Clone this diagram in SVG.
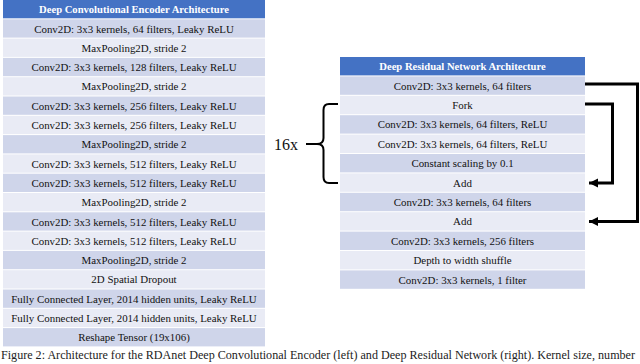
<svg xmlns="http://www.w3.org/2000/svg" width="640" height="364" viewBox="0 0 640 364">
<style>
.hd{fill:#4472c4}
.dk{fill:#cfd5ea}
.lt{fill:#e9ebf5}
text{font-family:"Liberation Serif","Times New Roman",serif;text-anchor:middle;dominant-baseline:central}
.t{font-size:10.9px;fill:#111}
.th{font-size:10.6px;font-weight:bold;fill:#fff}
.cap{font-size:12px;fill:#222;text-anchor:start;dominant-baseline:alphabetic}
.lbl{font-size:16px;fill:#111;text-anchor:start}
.ln{fill:none;stroke:#000;stroke-width:3}
.br{fill:none;stroke:#000;stroke-width:2}
</style>
<defs>
<marker id="ah" markerUnits="userSpaceOnUse" markerWidth="10" markerHeight="10" refX="9" refY="5" orient="auto">
<path d="M0,0.5 L9,5 L0,9.5 Z" fill="#000"/>
</marker>
</defs>
<rect width="640" height="364" fill="#fff"/>
<g id="encoder">
<g id="enc-h"><rect class="hd" x="3" y="0" width="262" height="18.3"/><text class="th" x="134" y="9.2">Deep Convolutional Encoder Architecture</text></g>
<g id="enc-1"><rect class="dk" x="3" y="19.3" width="262" height="18.3"/><text class="t" x="134" y="28.5">Conv2D: 3x3 kernels, 64 filters, Leaky ReLU</text></g>
<g id="enc-2"><rect class="lt" x="3" y="38.6" width="262" height="18.3"/><text class="t" x="134" y="47.8">MaxPooling2D, stride 2</text></g>
<g id="enc-3"><rect class="dk" x="3" y="57.9" width="262" height="18.3"/><text class="t" x="134" y="67.1">Conv2D: 3x3 kernels, 128 filters, Leaky ReLU</text></g>
<g id="enc-4"><rect class="lt" x="3" y="77.2" width="262" height="18.3"/><text class="t" x="134" y="86.4">MaxPooling2D, stride 2</text></g>
<g id="enc-5"><rect class="dk" x="3" y="96.5" width="262" height="18.3"/><text class="t" x="134" y="105.7">Conv2D: 3x3 kernels, 256 filters, Leaky ReLU</text></g>
<g id="enc-6"><rect class="lt" x="3" y="115.8" width="262" height="18.3"/><text class="t" x="134" y="125">Conv2D: 3x3 kernels, 256 filters, Leaky ReLU</text></g>
<g id="enc-7"><rect class="dk" x="3" y="135.1" width="262" height="18.3"/><text class="t" x="134" y="144.3">MaxPooling2D, stride 2</text></g>
<g id="enc-8"><rect class="lt" x="3" y="154.4" width="262" height="18.3"/><text class="t" x="134" y="163.6">Conv2D: 3x3 kernels, 512 filters, Leaky ReLU</text></g>
<g id="enc-9"><rect class="dk" x="3" y="173.7" width="262" height="18.3"/><text class="t" x="134" y="182.9">Conv2D: 3x3 kernels, 512 filters, Leaky ReLU</text></g>
<g id="enc-10"><rect class="lt" x="3" y="193" width="262" height="18.3"/><text class="t" x="134" y="202.2">MaxPooling2D, stride 2</text></g>
<g id="enc-11"><rect class="dk" x="3" y="212.3" width="262" height="18.3"/><text class="t" x="134" y="221.5">Conv2D: 3x3 kernels, 512 filters, Leaky ReLU</text></g>
<g id="enc-12"><rect class="lt" x="3" y="231.6" width="262" height="18.3"/><text class="t" x="134" y="240.8">Conv2D: 3x3 kernels, 512 filters, Leaky ReLU</text></g>
<g id="enc-13"><rect class="dk" x="3" y="250.9" width="262" height="18.3"/><text class="t" x="134" y="260.1">MaxPooling2D, stride 2</text></g>
<g id="enc-14"><rect class="lt" x="3" y="270.2" width="262" height="18.3"/><text class="t" x="134" y="279.4">2D Spatial Dropout</text></g>
<g id="enc-15"><rect class="dk" x="3" y="289.5" width="262" height="18.3"/><text class="t" x="134" y="298.7">Fully Connected Layer, 2014 hidden units, Leaky ReLU</text></g>
<g id="enc-16"><rect class="lt" x="3" y="308.8" width="262" height="18.3"/><text class="t" x="134" y="318">Fully Connected Layer, 2014 hidden units, Leaky ReLU</text></g>
<g id="enc-17"><rect class="dk" x="3" y="328.1" width="262" height="18.3"/><text class="t" x="134" y="337.3">Reshape Tensor (19x106)</text></g>
</g>
<g id="resnet">
<g id="res-h"><rect class="hd" x="340" y="57" width="245" height="18.4"/><text class="th" x="462.5" y="66.2">Deep Residual Network Architecture</text></g>
<g id="res-1"><rect class="dk" x="340" y="76.4" width="245" height="18.4"/><text class="t" x="462.5" y="85.6">Conv2D: 3x3 kernels, 64 filters</text></g>
<g id="res-2"><rect class="lt" x="340" y="95.8" width="245" height="18.4"/><text class="t" x="462.5" y="105">Fork</text></g>
<g id="res-3"><rect class="dk" x="340" y="115.2" width="245" height="18.4"/><text class="t" x="462.5" y="124.4">Conv2D: 3x3 kernels, 64 filters, ReLU</text></g>
<g id="res-4"><rect class="lt" x="340" y="134.6" width="245" height="18.4"/><text class="t" x="462.5" y="143.8">Conv2D: 3x3 kernels, 64 filters, ReLU</text></g>
<g id="res-5"><rect class="dk" x="340" y="154" width="245" height="18.4"/><text class="t" x="462.5" y="163.2">Constant scaling by 0.1</text></g>
<g id="res-6"><rect class="lt" x="340" y="173.4" width="245" height="18.4"/><text class="t" x="462.5" y="182.6">Add</text></g>
<g id="res-7"><rect class="dk" x="340" y="192.8" width="245" height="18.4"/><text class="t" x="462.5" y="202">Conv2D: 3x3 kernels, 64 filters</text></g>
<g id="res-8"><rect class="lt" x="340" y="212.2" width="245" height="18.4"/><text class="t" x="462.5" y="221.4">Add</text></g>
<g id="res-9"><rect class="dk" x="340" y="231.6" width="245" height="18.4"/><text class="t" x="462.5" y="240.8">Conv2D: 3x3 kernels, 256 filters</text></g>
<g id="res-10"><rect class="lt" x="340" y="251" width="245" height="18.4"/><text class="t" x="462.5" y="260.2">Depth to width shuffle</text></g>
<g id="res-11"><rect class="dk" x="340" y="270.4" width="245" height="18.4"/><text class="t" x="462.5" y="279.6">Conv2D: 3x3 kernels, 1 filter</text></g>
</g>
<g id="repeat">
<text class="lbl" x="274" y="144">16x</text>
<path class="br" d="M338,104 H329 Q323.5,104 323.5,110 V138 Q323.5,144 317,144 Q323.5,144 323.5,150 V177 Q323.5,183 329,183 H338"/>
<path class="br" d="M306,144 H317"/>
</g>
<g id="connectors">
<path class="ln" d="M585,104 H612.5 V183 H589" marker-end="url(#ah)"/>
<path class="ln" d="M585,84 H637.5 V221.5 H589" marker-end="url(#ah)"/>
</g>
<text class="cap" x="1" y="359" textLength="634" lengthAdjust="spacingAndGlyphs">Figure 2: Architecture for the RDAnet Deep Convolutional Encoder (left) and Deep Residual Network (right). Kernel size, number</text>
</svg>
